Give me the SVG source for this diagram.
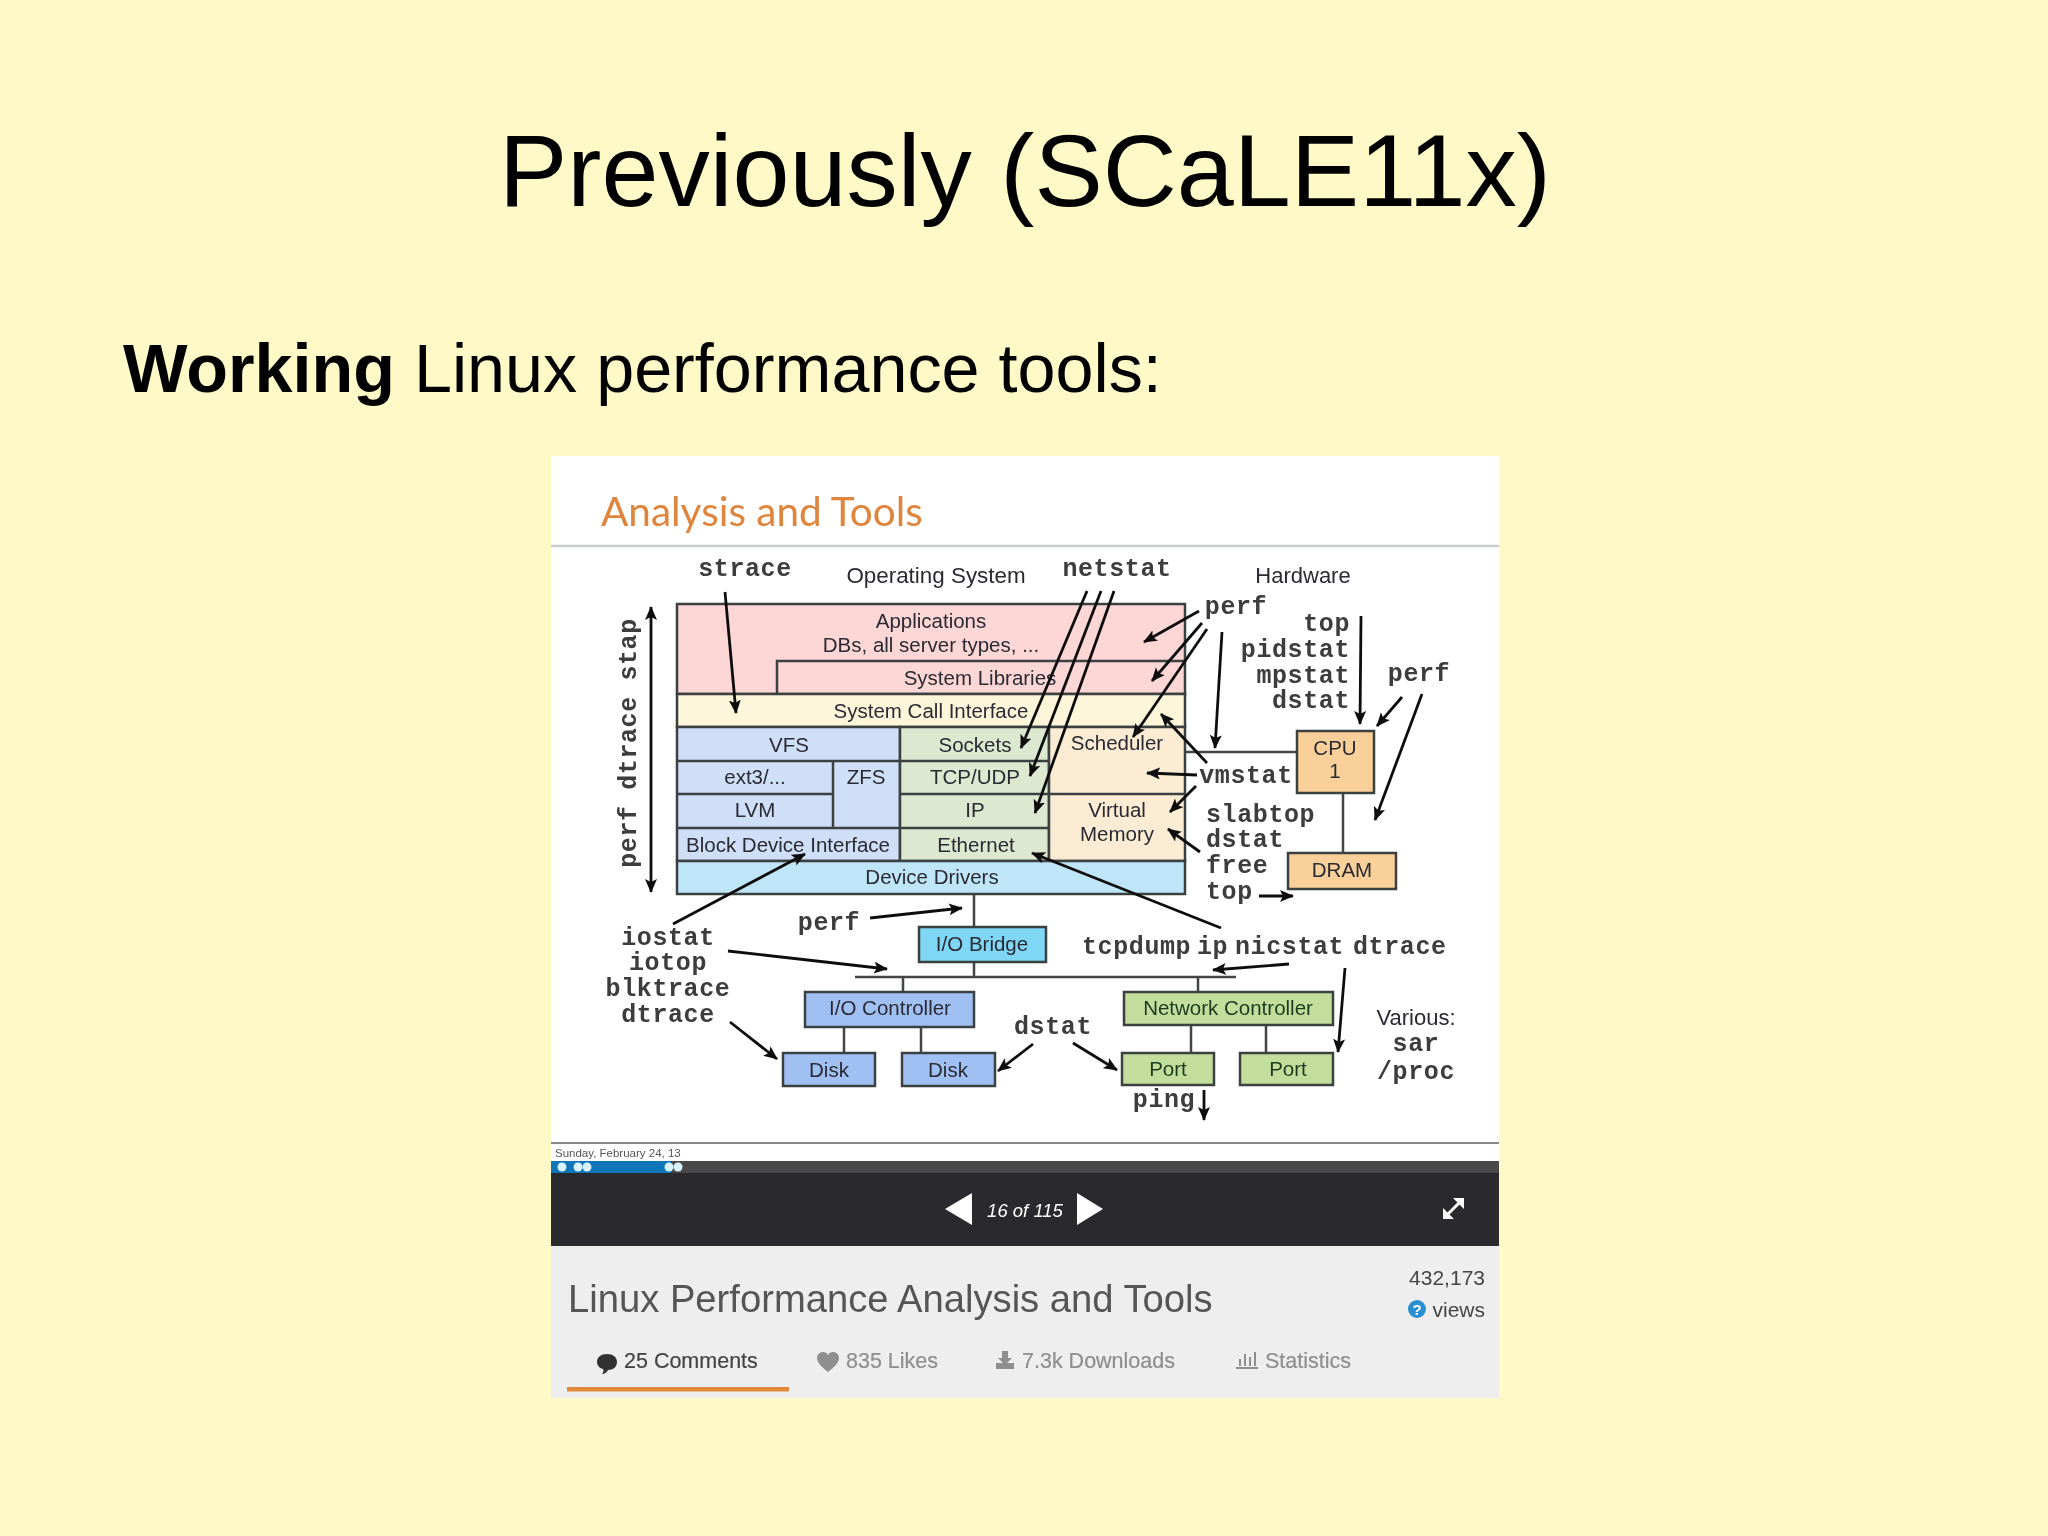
<svg xmlns="http://www.w3.org/2000/svg" width="2048" height="1536" viewBox="0 0 2048 1536">
<style>
.s{font-family:"Liberation Sans",Arial,sans-serif;font-size:20.5px;fill:#2a2a33;text-anchor:middle}
.m{font-family:"Liberation Mono","Courier New",monospace;font-size:25px;letter-spacing:.6px;font-weight:700;fill:#3c3c3c;text-anchor:middle}
.ms{text-anchor:start}.me{text-anchor:end}
.b{stroke:#3a3f3f;stroke-width:2.5}
.l{stroke:#444;stroke-width:2.5;fill:none}
.a{stroke:#111;stroke-width:2.8;fill:none;marker-end:url(#ah)}
.t{font-family:"Liberation Sans",Arial,sans-serif;fill:#8e8e8e;font-size:21.5px;stroke:#8e8e8e;stroke-width:.2}
</style>
<defs>
<marker id="ah" markerUnits="userSpaceOnUse" markerWidth="16" markerHeight="14" refX="13" refY="6" orient="auto-start-reverse"><path d="M0 0L14 6L0 12L3 6Z" fill="#111"/></marker>
<filter id="soft" x="0" y="0" width="1" height="1"><feGaussianBlur stdDeviation="0.7"/></filter>
</defs>
<rect width="2048" height="1536" fill="#fff8c7"/>
<text id="title" x="1025" y="206" font-family="'Liberation Sans',Arial,sans-serif" font-size="102.5" fill="#000" text-anchor="middle">Previously (SCaLE11x)</text>
<text id="subtitle" x="123" y="392" font-family="'Liberation Sans',Arial,sans-serif" font-size="68.3" fill="#000"><tspan font-weight="700">Working</tspan> Linux performance tools:</text>
<g id="screenshot" filter="url(#soft)">
<rect x="551" y="456" width="948" height="705" fill="#fff"/>
<text x="601" y="526" font-family="Lato,sans-serif" font-size="40.5" fill="#e0853c">Analysis and Tools</text>
<path d="M551 546H1499" stroke="#c9cdd0" stroke-width="2.5"/>
<path d="M551 1143H1499" stroke="#888" stroke-width="2"/>
<g id="connectors">
<path class="l" d="M974 894V927M974 962V977M855 977H1236M903 977V992M844 1027V1053M921 1027V1053M1198 977V992M1191 1025V1053M1266 1025V1053M1343 793V853M1185 752H1297"/>
</g>
<g id="os-stack">
<rect class="b" x="677" y="604" width="508" height="90" fill="#fdd6d6"/>
<path class="b" d="M777 694V661H1185" fill="none"/>
<rect class="b" x="677" y="694" width="508" height="33" fill="#fdf6da"/>
<rect class="b" x="677" y="727" width="223" height="134" fill="#cfdff8"/>
<path class="b" d="M677 761H900M677 794H833M833 761V828M677 828H900"/>
<rect class="b" x="900" y="727" width="149" height="134" fill="#dde8d0"/>
<path class="b" d="M900 761H1049M900 794H1049M900 828H1049"/>
<rect class="b" x="1049" y="727" width="136" height="134" fill="#fcecd4"/>
<path class="b" d="M1049 794H1185"/>
<rect class="b" x="677" y="861" width="508" height="33" fill="#bfe6f8"/>
<text class="s" x="931" y="628">Applications</text>
<text class="s" x="931" y="652">DBs, all server types, ...</text>
<text class="s" x="980" y="685">System Libraries</text>
<text class="s" x="931" y="718">System Call Interface</text>
<text class="s" x="789" y="752">VFS</text>
<text class="s" x="755" y="784">ext3/...</text>
<text class="s" x="866" y="784">ZFS</text>
<text class="s" x="755" y="817">LVM</text>
<text class="s" x="788" y="852">Block Device Interface</text>
<text class="s" x="975" y="752">Sockets</text>
<text class="s" x="975" y="784">TCP/UDP</text>
<text class="s" x="975" y="817">IP</text>
<text class="s" x="976" y="852">Ethernet</text>
<text class="s" x="1117" y="750">Scheduler</text>
<text class="s" x="1117" y="817">Virtual</text>
<text class="s" x="1117" y="841">Memory</text>
<text class="s" x="932" y="884">Device Drivers</text>
</g>
<g id="io-bridge"><rect class="b" x="919" y="927" width="127" height="35" fill="#7fd6f5"/><text class="s" x="982" y="951">I/O Bridge</text></g>
<g id="io-controller"><rect class="b" x="805" y="992" width="169" height="35" fill="#a0c0f4"/><text class="s" x="890" y="1015">I/O Controller</text></g>
<g id="disk-1"><rect class="b" x="783" y="1053" width="92" height="33" fill="#a0c0f4"/><text class="s" x="829" y="1077">Disk</text></g>
<g id="disk-2"><rect class="b" x="902" y="1053" width="93" height="33" fill="#a0c0f4"/><text class="s" x="948" y="1077">Disk</text></g>
<g id="network-controller"><rect class="b" x="1124" y="992" width="209" height="33" fill="#c3de9c"/><text class="s" x="1228" y="1015" style="fill:#1f3a1f">Network Controller</text></g>
<g id="port-1"><rect class="b" x="1122" y="1053" width="92" height="32" fill="#c3de9c"/><text class="s" x="1168" y="1076" style="fill:#1f3a1f">Port</text></g>
<g id="port-2"><rect class="b" x="1240" y="1053" width="93" height="32" fill="#c3de9c"/><text class="s" x="1288" y="1076" style="fill:#1f3a1f">Port</text></g>
<g id="cpu"><rect class="b" x="1297" y="731" width="77" height="62" fill="#f9d09a"/><text class="s" x="1335" y="755">CPU</text><text class="s" x="1335" y="778">1</text></g>
<g id="dram"><rect class="b" x="1288" y="853" width="108" height="36" fill="#f9d09a"/><text class="s" x="1342" y="877">DRAM</text></g>
<g id="arrows">
<path class="a" d="M725 592L736 713"/>
<path class="a" d="M651 740V607"/>
<path class="a" d="M651 740V892"/>
<path class="a" d="M673 924L805 854"/>
<path class="a" d="M870 918L962 908"/>
<path class="a" d="M728 951L887 969"/>
<path class="a" d="M730 1022L777 1059"/>
<path class="a" d="M1033 1044L998 1071"/>
<path class="a" d="M1073 1043L1117 1070"/>
<path class="a" d="M1204 1090V1120"/>
<path class="a" d="M1345 968L1338 1052"/>
<path class="a" d="M1289 964L1213 970"/>
<path class="a" d="M1221 928L1032 853"/>
<path class="a" d="M1087 591L1021 748"/>
<path class="a" d="M1101 591L1030 776"/>
<path class="a" d="M1114 591L1035 813"/>
<path class="a" d="M1199 611L1144 642"/>
<path class="a" d="M1202 623L1152 681"/>
<path class="a" d="M1207 629L1133 737"/>
<path class="a" d="M1222 632L1215 748"/>
<path class="a" d="M1361 616L1360 724"/>
<path class="a" d="M1402 697L1377 726"/>
<path class="a" d="M1422 694L1375 820"/>
<path class="a" d="M1207 763L1161 714"/>
<path class="a" d="M1197 775L1147 773"/>
<path class="a" d="M1196 786L1170 812"/>
<path class="a" d="M1200 852L1168 829"/>
<path class="a" d="M1259 896H1293"/>
</g>
<g id="labels">
<text class="m" x="745" y="576">strace</text>
<text class="s" x="936" y="583" style="font-size:22.4px">Operating System</text>
<text class="m" x="1117" y="576">netstat</text>
<text class="s" x="1303" y="583" style="font-size:22px">Hardware</text>
<text class="m" x="1236" y="614">perf</text>
<text class="m me" x="1350" y="631">top</text>
<text class="m me" x="1350" y="657">pidstat</text>
<text class="m me" x="1350" y="683">mpstat</text>
<text class="m me" x="1350" y="708">dstat</text>
<text class="m" x="1419" y="681">perf</text>
<text class="m" x="1246" y="783">vmstat</text>
<text class="m ms" x="1206" y="822">slabtop</text>
<text class="m ms" x="1206" y="847">dstat</text>
<text class="m ms" x="1206" y="873">free</text>
<text class="m ms" x="1206" y="899">top</text>
<text class="m" transform="translate(636 743) rotate(-90)">perf dtrace stap</text>
<text class="m" x="668" y="945">iostat</text>
<text class="m" x="668" y="970">iotop</text>
<text class="m" x="668" y="996">blktrace</text>
<text class="m" x="668" y="1022">dtrace</text>
<text class="m" x="829" y="930">perf</text>
<text class="m" x="1053" y="1034">dstat</text>
<text class="m ms" x="1082" y="954">tcpdump</text>
<text class="m ms" x="1197" y="954">ip</text>
<text class="m ms" x="1235" y="954">nicstat</text>
<text class="m ms" x="1353" y="954">dtrace</text>
<text class="s" x="1416" y="1025" style="font-size:22px">Various:</text>
<text class="m" x="1416" y="1051">sar</text>
<text class="m" x="1416" y="1079">/proc</text>
<text class="m" x="1164" y="1107">ping</text>
</g>
<g id="player">
<text x="555" y="1157" font-family="'Liberation Sans',sans-serif" font-size="11.5" fill="#555">Sunday, February 24, 13</text>
<rect x="551" y="1161" width="948" height="85" fill="#2b2b2d"/>
<rect x="551" y="1161" width="948" height="12" fill="#484848"/>
<rect x="551" y="1161" width="120" height="12" fill="#0f74b8"/>
<g fill="#d8f2ff"><circle cx="562" cy="1167" r="4.5"/><circle cx="578" cy="1167" r="4.5"/><circle cx="587" cy="1167" r="4.5"/><circle cx="669" cy="1167" r="4.5"/><circle cx="678" cy="1167" r="4.5"/></g>
<path d="M972 1193V1225L945 1209Z M1077 1193V1225L1103 1209Z" fill="#fff"/>
<text x="1025" y="1217" font-family="'Liberation Sans',sans-serif" font-size="18.5" font-style="italic" fill="#fff" text-anchor="middle">16 of 115</text>
<path d="M1447 1215L1459 1203" stroke="#fff" stroke-width="3"/>
<path d="M1453 1198H1464V1209Z M1443 1208V1219H1454Z" fill="#fff"/>
</g>
<g id="info">
<rect x="551" y="1246" width="948" height="152" fill="#eeeeef"/>
<text x="568" y="1312" font-family="'Liberation Sans',sans-serif" font-size="38.2" fill="#555">Linux Performance Analysis and Tools</text>
<text x="1485" y="1285" font-family="'Liberation Sans',sans-serif" font-size="21" fill="#444" text-anchor="end">432,173</text>
<circle cx="1417" cy="1309" r="9" fill="#2a8fd0"/>
<text x="1417" y="1315" font-family="'Liberation Sans',sans-serif" font-size="15" font-weight="700" fill="#fff" text-anchor="middle">?</text>
<text x="1485" y="1317" font-family="'Liberation Sans',sans-serif" font-size="21" fill="#444" text-anchor="end">views</text>
<path d="M607 1354c6 0 10 3 10 8s-4 8-9 8c-1 2-3 4-6 4 1-1 2-3 1-5-4-1-6-4-6-7 0-5 4-8 10-8Z" fill="#333"/>
<text class="t" x="624" y="1368" style="fill:#444;stroke:#444">25 Comments</text>
<path d="M828 1372c-6-5-11-9-11-14 0-7 9-8 11-3 2-5 11-4 11 3 0 5-5 9-11 14Z" fill="#8e8e8e"/>
<text class="t" x="846" y="1368">835 Likes</text>
<path d="M1002 1351h6v7h4l-7 7-7-7h4ZM996 1363h18v6h-18Z" fill="#8e8e8e"/>
<text class="t" x="1022" y="1368">7.3k Downloads</text>
<path d="M1236 1368H1258M1240 1366V1359M1245 1366V1354M1250 1366V1357M1255 1366V1352" stroke="#8e8e8e" stroke-width="2" fill="none"/>
<text class="t" x="1265" y="1368">Statistics</text>
<rect x="567" y="1387" width="222" height="4.5" fill="#e08a3c"/>
</g>
</g>
</svg>
